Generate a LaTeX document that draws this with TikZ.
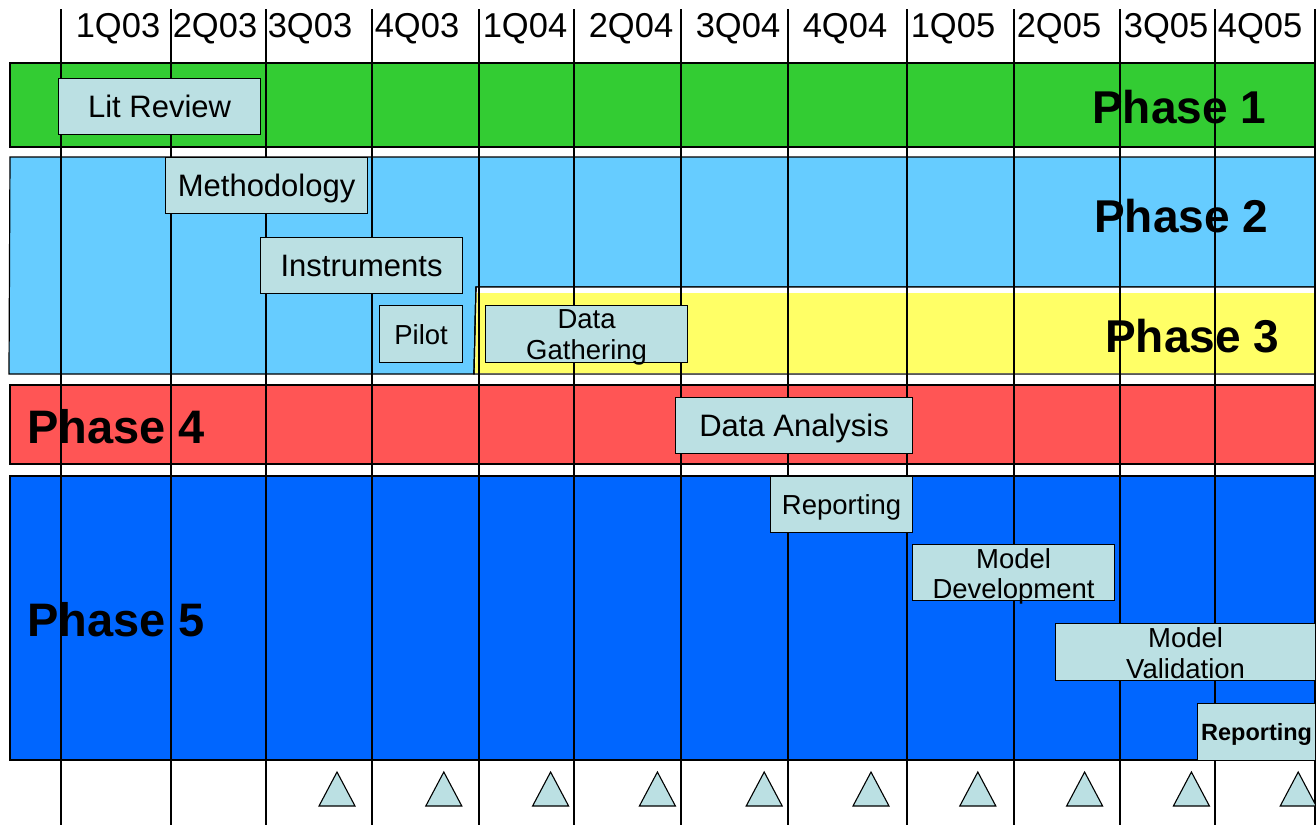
\documentclass[tikz,border=0pt]{standalone}
\usepackage{fontspec}
\setmainfont{Liberation Sans}
\definecolor{pgreen}{HTML}{33CC33}
\definecolor{plblue}{HTML}{66CCFF}
\definecolor{pyellow}{HTML}{FFFF66}
\definecolor{pred}{HTML}{FF5555}
\definecolor{pdblue}{HTML}{0066FF}
\definecolor{taskfill}{HTML}{BBE0E3}
\tikzset{
  band/.style={draw=black, line width=1.2pt},
  gridline/.style={draw=black, line width=1.1pt},
  taskbox/.style={draw=black, fill=taskfill, line width=1.2pt, inner sep=0pt, anchor=north west},
  tasktext/.style={font=\fontsize{31}{30}\selectfont, inner sep=0pt, align=center},
  smalltext/.style={font=\fontsize{27.5}{30.5}\selectfont, inner sep=0pt, align=center},
  hdr/.style={font=\fontsize{34.5}{34}\selectfont, inner sep=0pt, anchor=base},
  phase/.style={font=\fontsize{46}{46}\selectfont\bfseries, inner sep=0pt, anchor=base west},
  tri/.style={draw=black, fill=taskfill, line width=1.1pt, line join=miter},
}
\begin{document}
\begin{tikzpicture}[x=1pt,y=-1pt]
\useasboundingbox (0,0) rectangle (1316,825);
\fill[white] (0,0) rectangle (1316,825);
% bands
\draw[band, fill=pgreen] (10,63) rectangle (1330,147);
\draw[band, fill=plblue] (10,157) -- (1330,157) -- (1330,287) -- (476,287) -- (474,374) -- (9,374) -- cycle;
\draw[band, fill=white] (476,287) -- (1330,287) -- (1330,374) -- (474,374) -- cycle;
\fill[pyellow] (477,293) -- (1330,293) -- (1330,373) -- (475,373) -- cycle;
\draw[band] (476,287) -- (474,374);
\draw[band, fill=pred] (10,385) rectangle (1330,464);
\draw[band, fill=pdblue] (10,476) rectangle (1330,760);
% phase labels
\node[phase] (ph1) at (1092,123.5) {Phase 1};
\node[phase] (ph2) at (1094,232.5) {Phase 2};
\node[phase] (ph3) at (1105,352) {Phase 3};
\node[phase, font=\fontsize{47}{47}\selectfont\bfseries] (ph4) at (27,443) {Phase 4};
\node[phase, font=\fontsize{47}{47}\selectfont\bfseries] (ph5) at (27,636) {Phase 5};
% grid lines
\foreach \gx in {61,171,266,372,479,574,681,788,907,1014,1120,1215,1315}
  \draw[gridline] (\gx,9) -- (\gx,825);
% header
\foreach \hx/\hlab [count=\i] in {118/1Q03,215/2Q03,310/3Q03,417/4Q03,525/1Q04,631/2Q04,738/3Q04,845/4Q04,953/1Q05,1059/2Q05,1166/3Q05,1260/4Q05}
  \node[hdr] (h\i) at (\hx,37) {\hlab};
% tasks
\node[taskbox, minimum width=202pt, minimum height=56pt] (lit) at (58,78) {};
\node[tasktext, anchor=base] (litt) at ([yshift=-11pt]lit.center) {Lit Review};
\node[taskbox, minimum width=202pt, minimum height=56pt] (meth) at (165,157) {};
\node[tasktext, anchor=base] (metht) at ([yshift=-11pt]meth.center) {Methodology};
\node[taskbox, minimum width=202pt, minimum height=56pt] (inst) at (260,237) {};
\node[tasktext, anchor=base] (instt) at ([yshift=-11pt]inst.center) {Instruments};
\node[taskbox, minimum width=83pt, minimum height=57pt] (pilot) at (379,305) {};
\node[smalltext, anchor=base] (pilott) at ([yshift=-10pt]pilot.center) {Pilot};
\node[taskbox, minimum width=202pt, minimum height=57pt] (gath) at (485,305) {};
\node[smalltext, anchor=north] (gatht) at ([yshift=24.5pt]gath.center) {Data\\Gathering};
\node[taskbox, minimum width=237pt, minimum height=56pt] (anal) at (675,397) {};
\node[tasktext, anchor=base] (analt) at ([yshift=-11pt]anal.center) {Data Analysis};
\node[taskbox, minimum width=142pt, minimum height=56pt] (rep1) at (770,476) {};
\node[smalltext, anchor=base] (rep1t) at ([yshift=-10pt]rep1.center) {Reporting};
\node[taskbox, minimum width=202pt, minimum height=56pt] (mdev) at (912,544) {};
\node[smalltext, anchor=north] (mdevt) at ([yshift=24.5pt]mdev.center) {Model\\Development};
\node[taskbox, minimum width=260pt, minimum height=57pt] (mval) at (1055,623) {};
\node[smalltext, anchor=north] (mvalt) at ([yshift=24.5pt]mval.center) {Model\\Validation};
\node[taskbox, minimum width=118pt, minimum height=57pt] (rep2) at (1197,703) {};
\node[font=\fontsize{23.5}{23.5}\selectfont\bfseries, inner sep=0pt, anchor=base] (rep2t) at ([yshift=-8.5pt]rep2.center) {Reporting};
% milestones
\foreach \k in {0,...,9}
  \draw[tri] ({337+106.8*\k-18},806) -- ({337+106.8*\k},772) -- ({337+106.8*\k+18},806) -- cycle;
\end{tikzpicture}
\end{document}
